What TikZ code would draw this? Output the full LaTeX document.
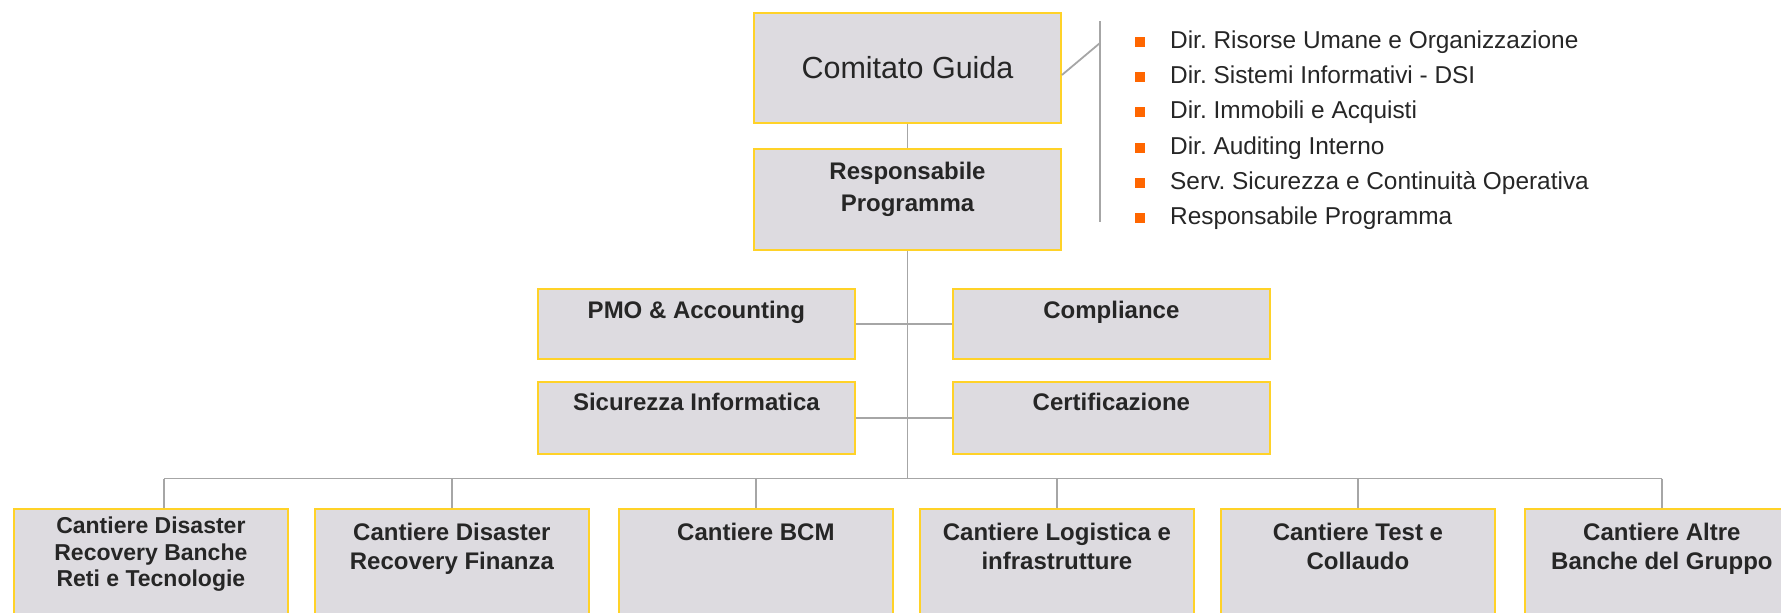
\documentclass[tikz,border=0pt]{standalone}
\usepackage{fontspec}
\setmainfont{Liberation Sans}
\usetikzlibrary{calc}
\definecolor{boxfill}{RGB}{221,219,224}
\definecolor{boxline}{RGB}{255,210,40}
\definecolor{wire}{RGB}{166,166,166}
\definecolor{bul}{RGB}{255,102,0}
\definecolor{ink}{RGB}{38,38,38}
\frenchspacing
\begin{document}
\begin{tikzpicture}[x=1pt,y=-1pt,
  orgbox/.style={draw=boxline, fill=boxfill, line width=1.8pt, inner sep=0pt, text=ink},
  topbox/.style={orgbox, minimum width=307pt},
  midbox/.style={orgbox, minimum width=317pt, anchor=north west},
  lowbox/.style={orgbox, minimum width=274pt, minimum height=140pt, anchor=north west},
  lbl/.style={anchor=north, inner sep=0pt, align=center, text=ink, font=\bfseries\fontsize{24}{29}\selectfont},
  wireline/.style={draw=wire, line width=1.8pt},
  bulletsq/.style={fill=bul, draw=none, minimum size=10pt, inner sep=0pt},
  itemtxt/.style={anchor=base west, inner sep=0pt, text=ink, font=\fontsize{24.4}{28}\selectfont}]
\useasboundingbox (0,0) rectangle (1781,613);
\clip (0,0) rectangle (1781,613);

% top boxes
\node[topbox, minimum height=110pt, font=\fontsize{30.5}{36}\selectfont] (cg) at (907.5,68) {Comitato Guida};
\node[topbox, minimum height=101pt,
  label={[lbl, font=\bfseries\fontsize{24}{32}\selectfont, yshift=-14pt]north:Responsabile\\Programma}] (rp) at (907.5,199.5) {};

% middle boxes
\node[midbox, minimum height=70pt, label={[lbl, yshift=-13pt]north:PMO \& Accounting}] (pmo) at (537,288) {};
\node[midbox, minimum height=70pt, label={[lbl, yshift=-13pt]north:Compliance}] (cmp) at (952,288) {};
\node[midbox, minimum height=72pt, label={[lbl, yshift=-12pt]north:Sicurezza Informatica}] (sic) at (537,381) {};
\node[midbox, minimum height=72pt, label={[lbl, yshift=-12pt]north:Certificazione}] (cert) at (952,381) {};

% bottom boxes
\node[lowbox, label={[lbl, font=\bfseries\fontsize{23}{26.5}\selectfont, yshift=-9pt]north:Cantiere Disaster\\Recovery Banche\\Reti e Tecnologie}] (b1) at (13,508) {};
\node[lowbox, label={[lbl, yshift=-15pt]north:Cantiere Disaster\\Recovery Finanza}] (b2) at (314,508) {};
\node[lowbox, label={[lbl, yshift=-15pt]north:Cantiere BCM}] (b3) at (618,508) {};
\node[lowbox, label={[lbl, yshift=-15pt]north:Cantiere Logistica e\\infrastrutture}] (b4) at (919,508) {};
\node[lowbox, label={[lbl, yshift=-15pt]north:Cantiere Test e\\Collaudo}] (b5) at (1220,508) {};
\node[lowbox, label={[lbl, yshift=-15pt]north:Cantiere Altre\\Banche del Gruppo}] (b6) at (1524,508) {};

% connectors
\coordinate (busL) at (164,478.5);
\coordinate (busR) at (1662,478.5);
\draw[wireline] (cg.south) -- (rp.north);
\draw[wireline] (rp.south) -- (rp.south |- busL);
\draw[wireline] (pmo.east) -- (cmp.west);
\draw[wireline] (sic.east) -- (cert.west);
\draw[wireline] (busL) -- (busR);
\draw[wireline] (busL) -- (busL |- b1.north);
\foreach \b in {b2,b3,b4,b5} {\draw[wireline] (\b.north |- busL) -- (\b.north);}
\draw[wireline] (busR) -- (busR |- b6.north);

% member list
\coordinate (lt) at (1100,21);
\coordinate (lb) at (1100,222);
\coordinate (lj) at (1100,43);
\draw[wireline] (lt) -- (lb);
\draw[wireline] ($(cg.east)+(0,7)$) -- (lj);
\foreach \t [count=\i from 0] in {Dir. Risorse Umane e Organizzazione, Dir. Sistemi Informativi - DSI, Dir. Immobili e Acquisti, Dir. Auditing Interno, Serv. Sicurezza e Continuità Operativa, Responsabile Programma} {
  \node[bulletsq] (bu\i) at (1140,42+35.2*\i) {};
  \node[itemtxt] (it\i) at (1170,48.5+35.2*\i) {\t};
}
\end{tikzpicture}
\end{document}
